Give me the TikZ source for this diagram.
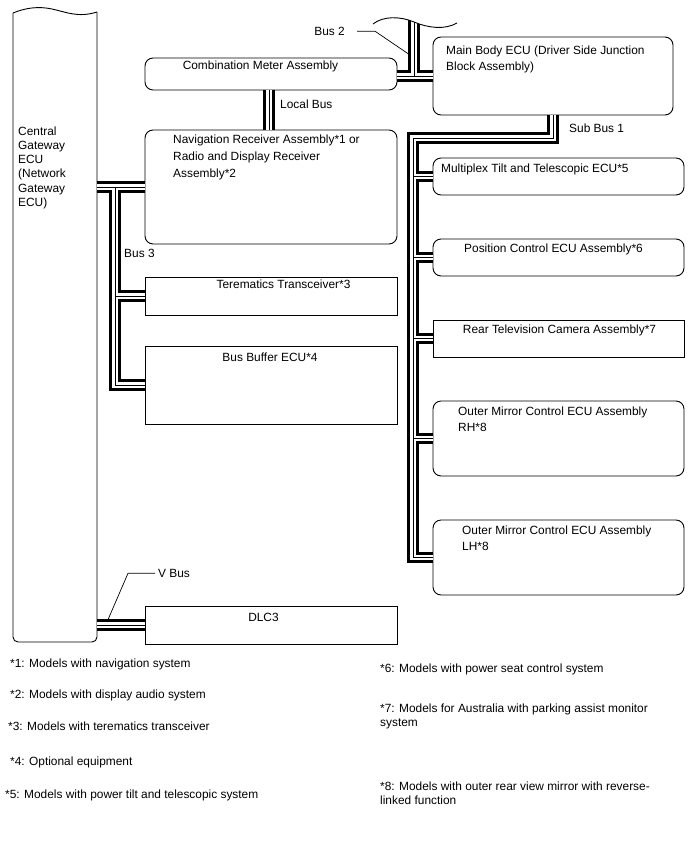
\documentclass[tikz,border=0pt]{standalone}
\usepackage{fontspec}
\setmainfont{Liberation Sans}
\begin{document}
\begin{tikzpicture}[x=1pt,y=-1pt,
  box/.style={draw, line width=0.9pt, rounded corners=8pt, inner sep=0pt},
  sqbox/.style={draw, line width=0.9pt, inner sep=0pt},
  txt/.style={inner sep=0pt, font=\fontsize{11.9}{17}\selectfont, align=left},
  lead/.style={line width=0.7pt},
  bus/.style={line width=11.5pt, postaction={draw, white, line width=5.8pt}, postaction={draw, black, line width=0.9pt}}
]
\useasboundingbox (0,0) rectangle (688,852);
% Central gateway
\node[minimum width=84pt, minimum height=630pt, inner sep=0pt] (gw) at (55,327) {};
\draw[line width=0.9pt, rounded corners=5pt] (97,12) -- (97,642) -- (13,642) -- (13,13);
\draw[line width=0.9pt] (13,13) .. controls (25,8) and (38,6) .. (52,9) .. controls (66,12) and (78,18) .. (97,12);
\node[txt, anchor=base west, font=\fontsize{11.9}{14.2}\selectfont] (gwtxt) at (18,206.3) {Central\\Gateway\\ECU\\(Network\\Gateway\\ECU)};
% boxes
\node[box, minimum width=252pt, minimum height=32pt] (meter) at (271,74) {};
\node[box, minimum width=240pt, minimum height=78pt] (main) at (553,76) {};
\node[box, minimum width=252pt, minimum height=114pt] (nav) at (271,187) {};
\node[sqbox, minimum width=252pt, minimum height=38pt] (tele) at (271,296) {};
\node[sqbox, minimum width=252pt, minimum height=78pt] (buf) at (271,385) {};
\node[sqbox, minimum width=252pt, minimum height=38pt] (dlc) at (271,625) {};
\node[box, minimum width=251pt, minimum height=37pt] (mtt) at (558.5,176.5) {};
\node[box, minimum width=251pt, minimum height=37pt] (pos) at (558.5,257.5) {};
\node[sqbox, minimum width=251pt, minimum height=37pt] (rtv) at (558.5,338.5) {};
\node[box, minimum width=251pt, minimum height=75pt] (rh) at (558.5,438.5) {};
\node[box, minimum width=251pt, minimum height=75pt] (lh) at (558.5,557.5) {};
% box texts
\node[txt, anchor=base] (metertxt) at (260.5,69.3) {Combination Meter Assembly};
\node[txt, anchor=base west, font=\fontsize{11.9}{16}\selectfont] (maintxt) at (446,70.3) {Main Body ECU (Driver Side Junction\\Block Assembly)};
\node[txt, anchor=base west] (navtxt) at (173,177.3) {Navigation Receiver Assembly*1 or\\Radio and Display Receiver\\Assembly*2};
\node[txt, anchor=base] (teletxt) at (283.5,288.3) {Terematics Transceiver*3};
\node[txt, anchor=base] (buftxt) at (270,361.3) {Bus Buffer ECU*4};
\node[txt, anchor=base] (dlctxt) at (263.5,621.3) {DLC3};
\node[txt, anchor=base west] (mtttxt) at (441,172.3) {Multiplex Tilt and Telescopic ECU*5};
\node[txt, anchor=base] (postxt) at (553.5,252.3) {Position Control ECU Assembly*6};
\node[txt, anchor=base] (rtvtxt) at (559.5,333.3) {Rear Television Camera Assembly*7};
\node[txt, anchor=base west, font=\fontsize{11.9}{16}\selectfont] (rhtxt) at (458,431.3) {Outer Mirror Control ECU Assembly\\RH*8};
\node[txt, anchor=base west, font=\fontsize{11.9}{16}\selectfont] (lhtxt) at (462,550.3) {Outer Mirror Control ECU Assembly\\LH*8};
% buses
\draw[bus] (414,15) -- (414,76) (meter.east |- 0,76) -- (main.west |- 0,76);
\fill[white] (373,24) .. controls (383,16) and (400,16) .. (414,22) .. controls (428,28) and (445,30) .. (457,23) -- (457,8) -- (373,8) -- cycle;
\draw[line width=0.9pt] (373,24) .. controls (383,16) and (400,16) .. (414,22) .. controls (428,28) and (445,30) .. (457,23);
\draw[bus] (269,0 |- meter.south) -- (269,0 |- nav.north);
\draw[bus] (main.south) -- (main.south |- 0,138) -- (413,138) -- (413,0 |- lh.west) -- (lh.west)
  (413,0 |- mtt.west) -- (mtt.west)
  (413,0 |- pos.west) -- (pos.west)
  (413,0 |- rtv.west) -- (rtv.west)
  (413,0 |- rh.west) -- (rh.west);
\draw[bus] (gw.east |- nav.west) -- (nav.west)
  (115,0 |- nav.west) -- (115,0 |- buf.west) -- (buf.west)
  (115,0 |- tele.west) -- (tele.west);
\draw[bus] (gw.east |- dlc.west) -- (dlc.west);
% bus labels
\node[txt, anchor=base east] (b2lab) at (345,35.3) {Bus 2};
\coordinate (b2pt) at (410,55);
\draw[lead] ([xshift=12pt]b2lab.east) -- ++(18,0) -- (b2pt);
\node[txt, anchor=base west] (lblab) at (280,108.3) {Local Bus};
\node[txt, anchor=base west] (sblab) at (569,132.3) {Sub Bus 1};
\node[txt, anchor=base west] (b3lab) at (124,257.3) {Bus 3};
\node[txt, anchor=base west] (vlab) at (158,577.3) {V Bus};
\coordinate (vpt) at (107,622);
\draw[lead] ([xshift=-3pt]vlab.west) -- ++(-27,0) -- (vpt);
% notes
\node[txt, anchor=base west] (n1) at (10,667.3) {*1: Models with navigation system};
\node[txt, anchor=base west] (n2) at (10,698.3) {*2: Models with display audio system};
\node[txt, anchor=base west] (n3) at (8,730.3) {*3: Models with terematics transceiver};
\node[txt, anchor=base west] (n4) at (10,765.3) {*4: Optional equipment};
\node[txt, anchor=base west] (n5) at (5,798.3) {*5: Models with power tilt and telescopic system};
\node[txt, anchor=base west] (n6) at (380,672.3) {*6: Models with power seat control system};
\node[txt, anchor=base west, font=\fontsize{11.9}{14}\selectfont] (n7) at (380,726.3) {*7: Models for Australia with parking assist monitor\\system};
\node[txt, anchor=base west, font=\fontsize{11.9}{14}\selectfont] (n8) at (380,804.3) {*8: Models with outer rear view mirror with reverse-\\linked function};
\end{tikzpicture}
\end{document}
